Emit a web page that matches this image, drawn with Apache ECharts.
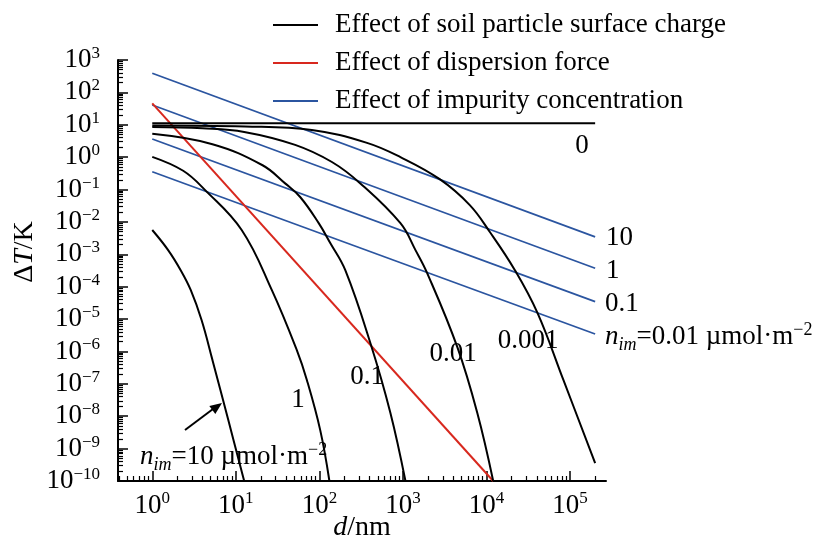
<!DOCTYPE html>
<html>
<head>
<meta charset="utf-8">
<script src="https://cdn.jsdelivr.net/npm/echarts@6/dist/echarts.min.js"></script>
<style>
  html, body { margin: 0; padding: 0; background: #fff; }
  #chart { width: 827px; height: 544px; }
</style>
</head>
<body>
<div id="chart"></div>
<script>
// values are stored as log10: x = log10(d/nm), y = log10(ΔT/K)
const xTicks = [0, 1, 2, 3, 4, 5]
const yTicks = [-10, -9, -8, -7, -6, -5, -4, -3, -2, -1, 0, 1, 2, 3]
const minorSteps = [2, 3, 4, 5, 6, 7, 8, 9]

// effect of soil particle surface charge, one curve per n_im
const charge0 = [[0, 1.05], [5.3, 1.05]]
const charge0001 = [[0, 0.98], [1.11, 0.95], [1.91, 0.84], [2.57, 0.44], [2.97, 0.0], [3.44, -0.68],
  [3.8, -1.48], [4.04, -2.31], [4.34, -3.49], [4.61, -4.81], [4.92, -6.88], [5.3, -9.45]]
const charge001 = [[0, 0.93], [0.6, 0.89], [1.1, 0.78], [1.71, 0.38], [2.15, -0.15], [2.49, -0.81],
  [2.97, -2.04], [3.15, -2.87], [3.29, -3.58], [3.65, -5.86], [3.89, -7.9], [4.08, -10]]
const charge01 = [[0, 0.72], [0.72, 0.4], [1.32, -0.25], [1.59, -0.81], [1.77, -1.23], [1.99, -2.03],
  [2.13, -2.65], [2.31, -3.49], [2.61, -5.74], [2.85, -7.9], [3.03, -10]]
const charge1 = [[0, 0.01], [0.37, -0.42], [0.63, -1.01], [1.07, -2.25], [1.43, -4.1], [1.73, -5.96],
  [1.85, -6.88], [2.01, -8.43], [2.12, -10]]
const charge10 = [[0, -2.25], [0.19, -2.87], [0.34, -3.49], [0.46, -4.1], [0.59, -5.03], [0.72, -6.26],
  [0.91, -8.12], [1.1, -10]]

// effect of dispersion force
const dispersion = [[0, 1.66], [4.08, -10]]

// effect of impurity concentration
const impurity10 = [[0, 2.59], [5.3, -2.46]]
const impurity1 = [[0, 1.61], [5.3, -3.43]]
const impurity01 = [[0, 0.56], [5.3, -4.46]]
const impurity001 = [[0, -0.45], [5.3, -5.46]]

const FONT = '"Liberation Serif", "DejaVu Serif", serif'
const BLACK = '#000'
const RED = '#d8281e'
const BLUE = '#2b55a0'
const NAME_CHARGE = 'Effect of soil particle surface charge'
const NAME_DISP = 'Effect of dispersion force'
const NAME_IMP = 'Effect of impurity concentration'

const X_MIN = -0.41
const X_MAX = 5.43
const Y_MIN = -10
const Y_MAX = 3

const minorValues = (lo, hi) => {
  const out = []
  for (let n = Math.floor(lo); n <= Math.ceil(hi); n++) {
    minorSteps.forEach(k => {
      const v = n + Math.log10(k)
      if (v > lo && v < hi) out.push(v)
    })
  }
  return out
}

const powLabel = v => '10{s|' + String(v).replace('-', '\u2212') + '}'

const supRich = {
  s: { fontSize: 17, fontFamily: FONT, color: '#000', lineHeight: 17, padding: [0, 0, 13, 0] }
}

const chart = echarts.init(document.getElementById('chart'), null, { renderer: 'canvas' })

const mkLine = (name, data, color, smooth) => ({
  name: name,
  type: 'line',
  data: data,
  showSymbol: false,
  symbol: 'none',
  smooth: smooth ? 0.4 : false,
  color: color,
  lineStyle: { color: color, width: color === BLUE ? 1.8 : 2 },
  silent: true,
  z: color === BLUE ? 3 : (color === RED ? 4 : 5)
})

const richN = {
  i: { fontStyle: 'italic', fontSize: 27, fontFamily: FONT },
  sub: { fontStyle: 'italic', fontSize: 18, fontFamily: FONT, lineHeight: 18, padding: [16, 0, 0, 0] },
  sup: { fontSize: 18, fontFamily: FONT, lineHeight: 18, padding: [0, 0, 13, 0] }
}

const txt = (x, y, text, align) => ({
  type: 'text',
  x: x,
  y: y,
  silent: true,
  style: {
    text: text,
    fontSize: 27,
    fontFamily: FONT,
    fill: '#000',
    align: align || 'left',
    verticalAlign: 'middle',
    textAlign: align || 'left',
    textVerticalAlign: 'middle',
    rich: richN
  }
})

const option = {
  backgroundColor: '#fff',
  animation: false,
  grid: { left: 118, right: 221, top: 60, bottom: 63, containLabel: false },
  legend: {
    orient: 'vertical',
    left: 268,
    top: 6,
    selectedMode: false,
    icon: 'rect',
    itemWidth: 45,
    itemHeight: 2,
    itemGap: 10,
    data: [NAME_CHARGE, NAME_DISP, NAME_IMP],
    textStyle: { fontSize: 27, fontFamily: FONT, color: '#000', lineHeight: 28, padding: [0, 0, 0, 12] }
  },
  xAxis: [
    {
      type: 'value',
      min: X_MIN,
      max: X_MAX,
      splitLine: { show: false },
      axisLine: { onZero: false, lineStyle: { color: '#000', width: 2 } },
      axisTick: { inside: true, length: 10, customValues: xTicks, lineStyle: { color: '#000', width: 1.5 } },
      axisLabel: {
        customValues: xTicks,
        formatter: powLabel,
        fontSize: 27,
        fontFamily: FONT,
        color: '#000',
        margin: 11,
        rich: supRich
      }
    },
    {
      type: 'value',
      min: X_MIN,
      max: X_MAX,
      position: 'bottom',
      splitLine: { show: false },
      axisLine: { show: false, onZero: false },
      axisTick: { inside: true, length: 5, customValues: minorValues(X_MIN, X_MAX), lineStyle: { color: '#000', width: 1.2 } },
      axisLabel: { show: false }
    }
  ],
  yAxis: [
    {
      type: 'value',
      min: Y_MIN,
      max: Y_MAX,
      splitLine: { show: false },
      axisLine: { show: true, onZero: false, lineStyle: { color: '#000', width: 2 } },
      axisTick: { inside: true, length: 10, customValues: yTicks, lineStyle: { color: '#000', width: 1.5 } },
      axisLabel: {
        customValues: yTicks,
        formatter: powLabel,
        fontSize: 27,
        fontFamily: FONT,
        color: '#000',
        margin: 18,
        rich: supRich
      }
    },
    {
      type: 'value',
      min: Y_MIN,
      max: Y_MAX,
      position: 'left',
      splitLine: { show: false },
      axisLine: { show: false, onZero: false },
      axisTick: { inside: true, length: 5, customValues: minorValues(Y_MIN, Y_MAX), lineStyle: { color: '#000', width: 1.2 } },
      axisLabel: { show: false }
    }
  ],
  series: [
    mkLine(NAME_CHARGE, charge0, BLACK, false),
    mkLine(NAME_CHARGE, charge0001, BLACK, true),
    mkLine(NAME_CHARGE, charge001, BLACK, true),
    mkLine(NAME_CHARGE, charge01, BLACK, true),
    mkLine(NAME_CHARGE, charge1, BLACK, true),
    mkLine(NAME_CHARGE, charge10, BLACK, true),
    mkLine(NAME_DISP, dispersion, RED, false),
    mkLine(NAME_IMP, impurity10, BLUE, false),
    mkLine(NAME_IMP, impurity1, BLUE, false),
    mkLine(NAME_IMP, impurity01, BLUE, false),
    mkLine(NAME_IMP, impurity001, BLUE, false)
  ],
  graphic: [
    // axis names
    {
      type: 'text',
      x: 25,
      y: 252,
      rotation: Math.PI / 2,
      silent: true,
      style: {
        text: '\u0394{i|T}/K',
        fontSize: 28,
        fontFamily: FONT,
        fill: '#000',
        align: 'center',
        verticalAlign: 'middle',
        textAlign: 'center',
        textVerticalAlign: 'middle',
        rich: { i: { fontStyle: 'italic', fontSize: 28, fontFamily: FONT } }
      }
    },
    {
      type: 'text',
      x: 362,
      y: 528,
      silent: true,
      style: {
        text: '{i|d}/nm',
        fontSize: 28,
        fontFamily: FONT,
        fill: '#000',
        align: 'center',
        verticalAlign: 'middle',
        textAlign: 'center',
        textVerticalAlign: 'middle',
        rich: { i: { fontStyle: 'italic', fontSize: 28, fontFamily: FONT } }
      }
    },
    // curve labels
    txt(582, 146, '0', 'center'),
    txt(606, 238, '10'),
    txt(606, 271, '1'),
    txt(605, 304, '0.1'),
    txt(605, 337, '{i|n}{sub|im}=0.01 \u00b5mol\u00b7m{sup|\u22122}'),
    txt(528, 341, '0.001', 'center'),
    txt(453, 354, '0.01', 'center'),
    txt(367, 377, '0.1', 'center'),
    txt(298, 400, '1', 'center'),
    txt(140, 457, '{i|n}{sub|im}=10 \u00b5mol\u00b7m{sup|\u22122}'),
    // arrow to the n_im = 10 curve
    {
      type: 'polyline',
      silent: true,
      shape: { points: [[185, 430], [213, 409]] },
      style: { stroke: '#000', lineWidth: 2, fill: null }
    },
    {
      type: 'polygon',
      silent: true,
      shape: { points: [[222, 403], [215.3, 414.1], [209.3, 406.1]] },
      style: { fill: '#000' }
    }
  ]
}

chart.setOption(option)
</script>
</body>
</html>
